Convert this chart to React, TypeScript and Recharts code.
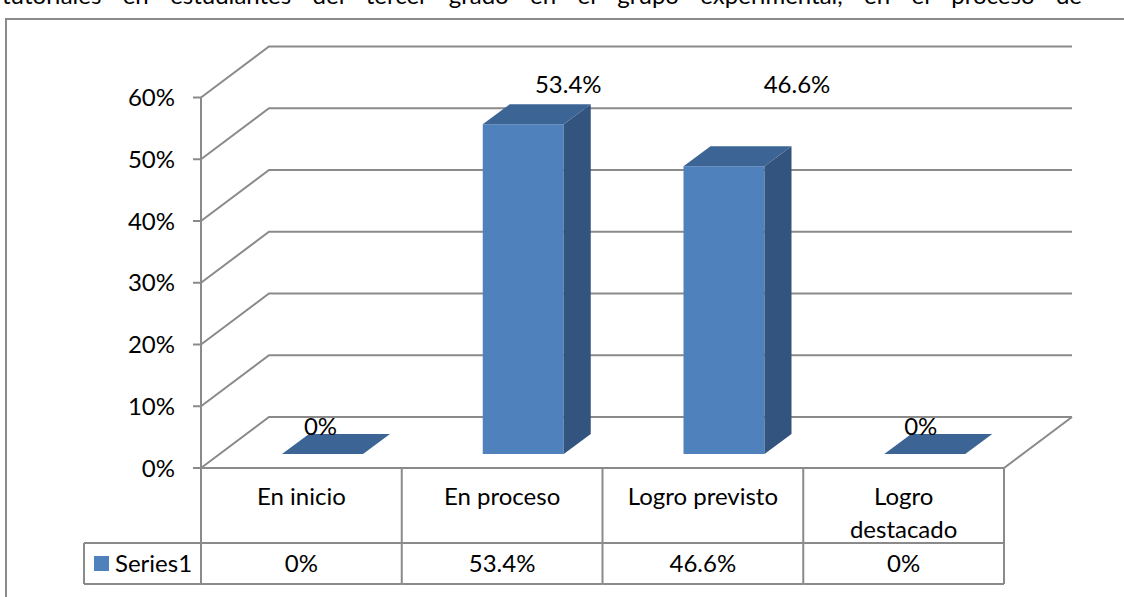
import React from 'react';
import { BarChart, Bar, XAxis, YAxis, CartesianGrid, LabelList } from 'recharts';

// data
const categories = ['En inicio', 'En proceso', 'Logro previsto', 'Logro destacado'];
const series1 = [0, 0.534, 0.466, 0];
const yTicks = [0, 0.1, 0.2, 0.3, 0.4, 0.5, 0.6];
const seriesName = 'Series1';
const captionText = 'tutoriales en estudiantes del tercer grado en el grupo experimental, en el proceso de';

const data = categories.map((name, i) => ({ name, value: series1[i] }));

// look
const FONT = 'Lato, "Open Sans", sans-serif';
const FS = 24;
const GRID = '#8a8a8a';
const FRONT = '#4f81bd';
const TOP = '#3c6494';
const SIDE = '#33547e';

// layout
const W = 1124;
const H = 597;
const PLOT_LEFT = 201;
const PLOT_RIGHT = 1004;
const PLOT_TOP = 97.5;
const PLOT_BOTTOM = 468;
const DEPTH_X = 68; // back wall offset
const DEPTH_Y = 51;
const BAR_SHIFT_X = 21; // bars stand in the middle of the floor
const BAR_SHIFT_Y = 14;
const BAR_DX = 27; // bar depth
const BAR_DY = 20;
const ROW1 = 75;
const ROW2 = 116;
const BAND = (PLOT_RIGHT - PLOT_LEFT) / categories.length;
const labelNudge = [
  { dx: -2, dy: -41 },
  { dx: 45, dy: -54 },
  { dx: 73, dy: -96 },
  { dx: -4, dy: -41 },
];

const pct = (v: number) => `${+(v * 100).toFixed(1)}%`;

const GridLine = (props: any) => {
  const { x1, x2, y1 } = props;
  const floor = Math.abs(y1 - PLOT_BOTTOM) < 1;
  return (
    <g>
      <path
        d={`M${x1},${y1} L${x1 + DEPTH_X},${y1 - DEPTH_Y} L${x2 + DEPTH_X},${y1 - DEPTH_Y}`}
        fill="none"
        stroke={GRID}
        strokeWidth={2}
      />
      {floor && (
        <path
          d={`M${x1},${y1} L${x2},${y1} L${x2 + DEPTH_X},${y1 - DEPTH_Y}`}
          fill="none"
          stroke={GRID}
          strokeWidth={2}
        />
      )}
    </g>
  );
};

const Bar3D = (props: any) => {
  const { x, y, width, height } = props;
  const fx = x + BAR_SHIFT_X;
  const fy = y - BAR_SHIFT_Y;
  const h = Math.max(0, height || 0);
  const top = `M${fx},${fy} L${fx + width},${fy} L${fx + width + BAR_DX},${fy - BAR_DY} L${fx + BAR_DX},${fy - BAR_DY} Z`;
  if (h < 0.5) return <path d={top} fill={TOP} />;
  const side = `M${fx + width},${fy} L${fx + width + BAR_DX},${fy - BAR_DY} L${fx + width + BAR_DX},${fy + h - BAR_DY} L${fx + width},${fy + h} Z`;
  return (
    <g>
      <rect x={fx} y={fy} width={width} height={h} fill={FRONT} />
      <path d={side} fill={SIDE} />
      <path d={top} fill={TOP} />
    </g>
  );
};

const BarLabel = (props: any) => {
  const vb = props.viewBox || props;
  const x = props.x ?? vb.x;
  const y = props.y ?? vb.y;
  const width = props.width ?? vb.width;
  const i = props.index ?? 0;
  const n = labelNudge[i] || { dx: 0, dy: -30 };
  return (
    <text
      x={x + width / 2 + BAR_SHIFT_X + n.dx}
      y={y + n.dy}
      dy="0.35em"
      textAnchor="middle"
      fill="#000"
      fontSize={FS}
      fontFamily={FONT}
    >
      {pct(series1[i])}
    </text>
  );
};

const wrap = (s: string) => (s.length > 14 ? s.split(' ') : [s]);

const TableCell = (props: any) => {
  const { x, y, payload } = props;
  const i = props.index ?? payload.index ?? 0;
  const left = x - BAND / 2;
  const right = x + BAND / 2;
  const lines = wrap(String(payload.value));
  const ln = { stroke: GRID, strokeWidth: 2 };
  return (
    <g>
      {i === 0 && <line x1={left} y1={y} x2={left} y2={y + ROW2} {...ln} />}
      <line x1={right} y1={y} x2={right} y2={y + ROW2} {...ln} />
      <line x1={left} y1={y + ROW1} x2={right} y2={y + ROW1} {...ln} />
      <line x1={left} y1={y + ROW2} x2={right} y2={y + ROW2} {...ln} />
      {lines.map((t, k) => (
        <text key={k} x={x} y={y + 29 + k * 33} dy="0.35em" textAnchor="middle" fill="#000" fontSize={FS} fontFamily={FONT}>
          {t}
        </text>
      ))}
      <text x={x} y={y + 95.5} dy="0.35em" textAnchor="middle" fill="#000" fontSize={FS} fontFamily={FONT}>
        {pct(series1[i])}
      </text>
      {i === 0 && (
        <g>
          <line x1={left - 117} y1={y + ROW1} x2={left} y2={y + ROW1} {...ln} />
          <line x1={left - 117} y1={y + ROW2} x2={left} y2={y + ROW2} {...ln} />
          <line x1={left - 117} y1={y + ROW1} x2={left - 117} y2={y + ROW2} {...ln} />
          <rect x={left - 107} y={y + 88} width={15} height={15} fill={FRONT} />
          <text x={left - 86} y={y + 95.5} dy="0.35em" fill="#000" fontSize={FS} fontFamily={FONT}>
            {seriesName}
          </text>
        </g>
      )}
    </g>
  );
};

export default function App() {
  return (
    <div style={{ position: 'fixed', left: 0, top: 0, width: W, height: H, overflow: 'hidden', background: '#fff', fontFamily: FONT }}>
      <div
        style={{
          position: 'absolute',
          left: 2,
          top: -18,
          width: 1080,
          fontSize: FS,
          lineHeight: '26px',
          textAlign: 'justify',
          textAlignLast: 'justify',
          color: '#000',
        }}
      >
        {captionText}
      </div>
      <div
        style={{
          position: 'absolute',
          left: 5,
          top: 18,
          width: 1300,
          height: 800,
          borderLeft: `2px solid ${GRID}`,
          borderTop: `2px solid ${GRID}`,
        }}
      />
      <div style={{ position: 'absolute', left: 0, top: 0 }}>
        <BarChart
          width={W}
          height={H}
          data={data}
          margin={{ top: PLOT_TOP, right: W - PLOT_RIGHT, left: PLOT_LEFT - 60, bottom: H - PLOT_BOTTOM - ROW2 }}
        >
          <CartesianGrid vertical={false} horizontal={GridLine} />
          <YAxis
            domain={[0, 0.6]}
            ticks={yTicks}
            interval={0}
            tickFormatter={pct}
            width={60}
            axisLine={{ stroke: GRID, strokeWidth: 2 }}
            tickLine={{ stroke: GRID, strokeWidth: 2 }}
            tickSize={8}
            tickMargin={18}
            tick={{ fill: '#000', fontSize: FS, fontFamily: FONT }}
          />
          <XAxis
            dataKey="name"
            axisLine={false}
            tickLine={false}
            tickSize={0}
            tickMargin={0}
            height={ROW2}
            interval={0}
            tick={<TableCell />}
          />
          <Bar dataKey="value" barSize={81} isAnimationActive={false} shape={<Bar3D />}>
            <LabelList dataKey="value" content={<BarLabel />} />
          </Bar>
        </BarChart>
      </div>
    </div>
  );
}
